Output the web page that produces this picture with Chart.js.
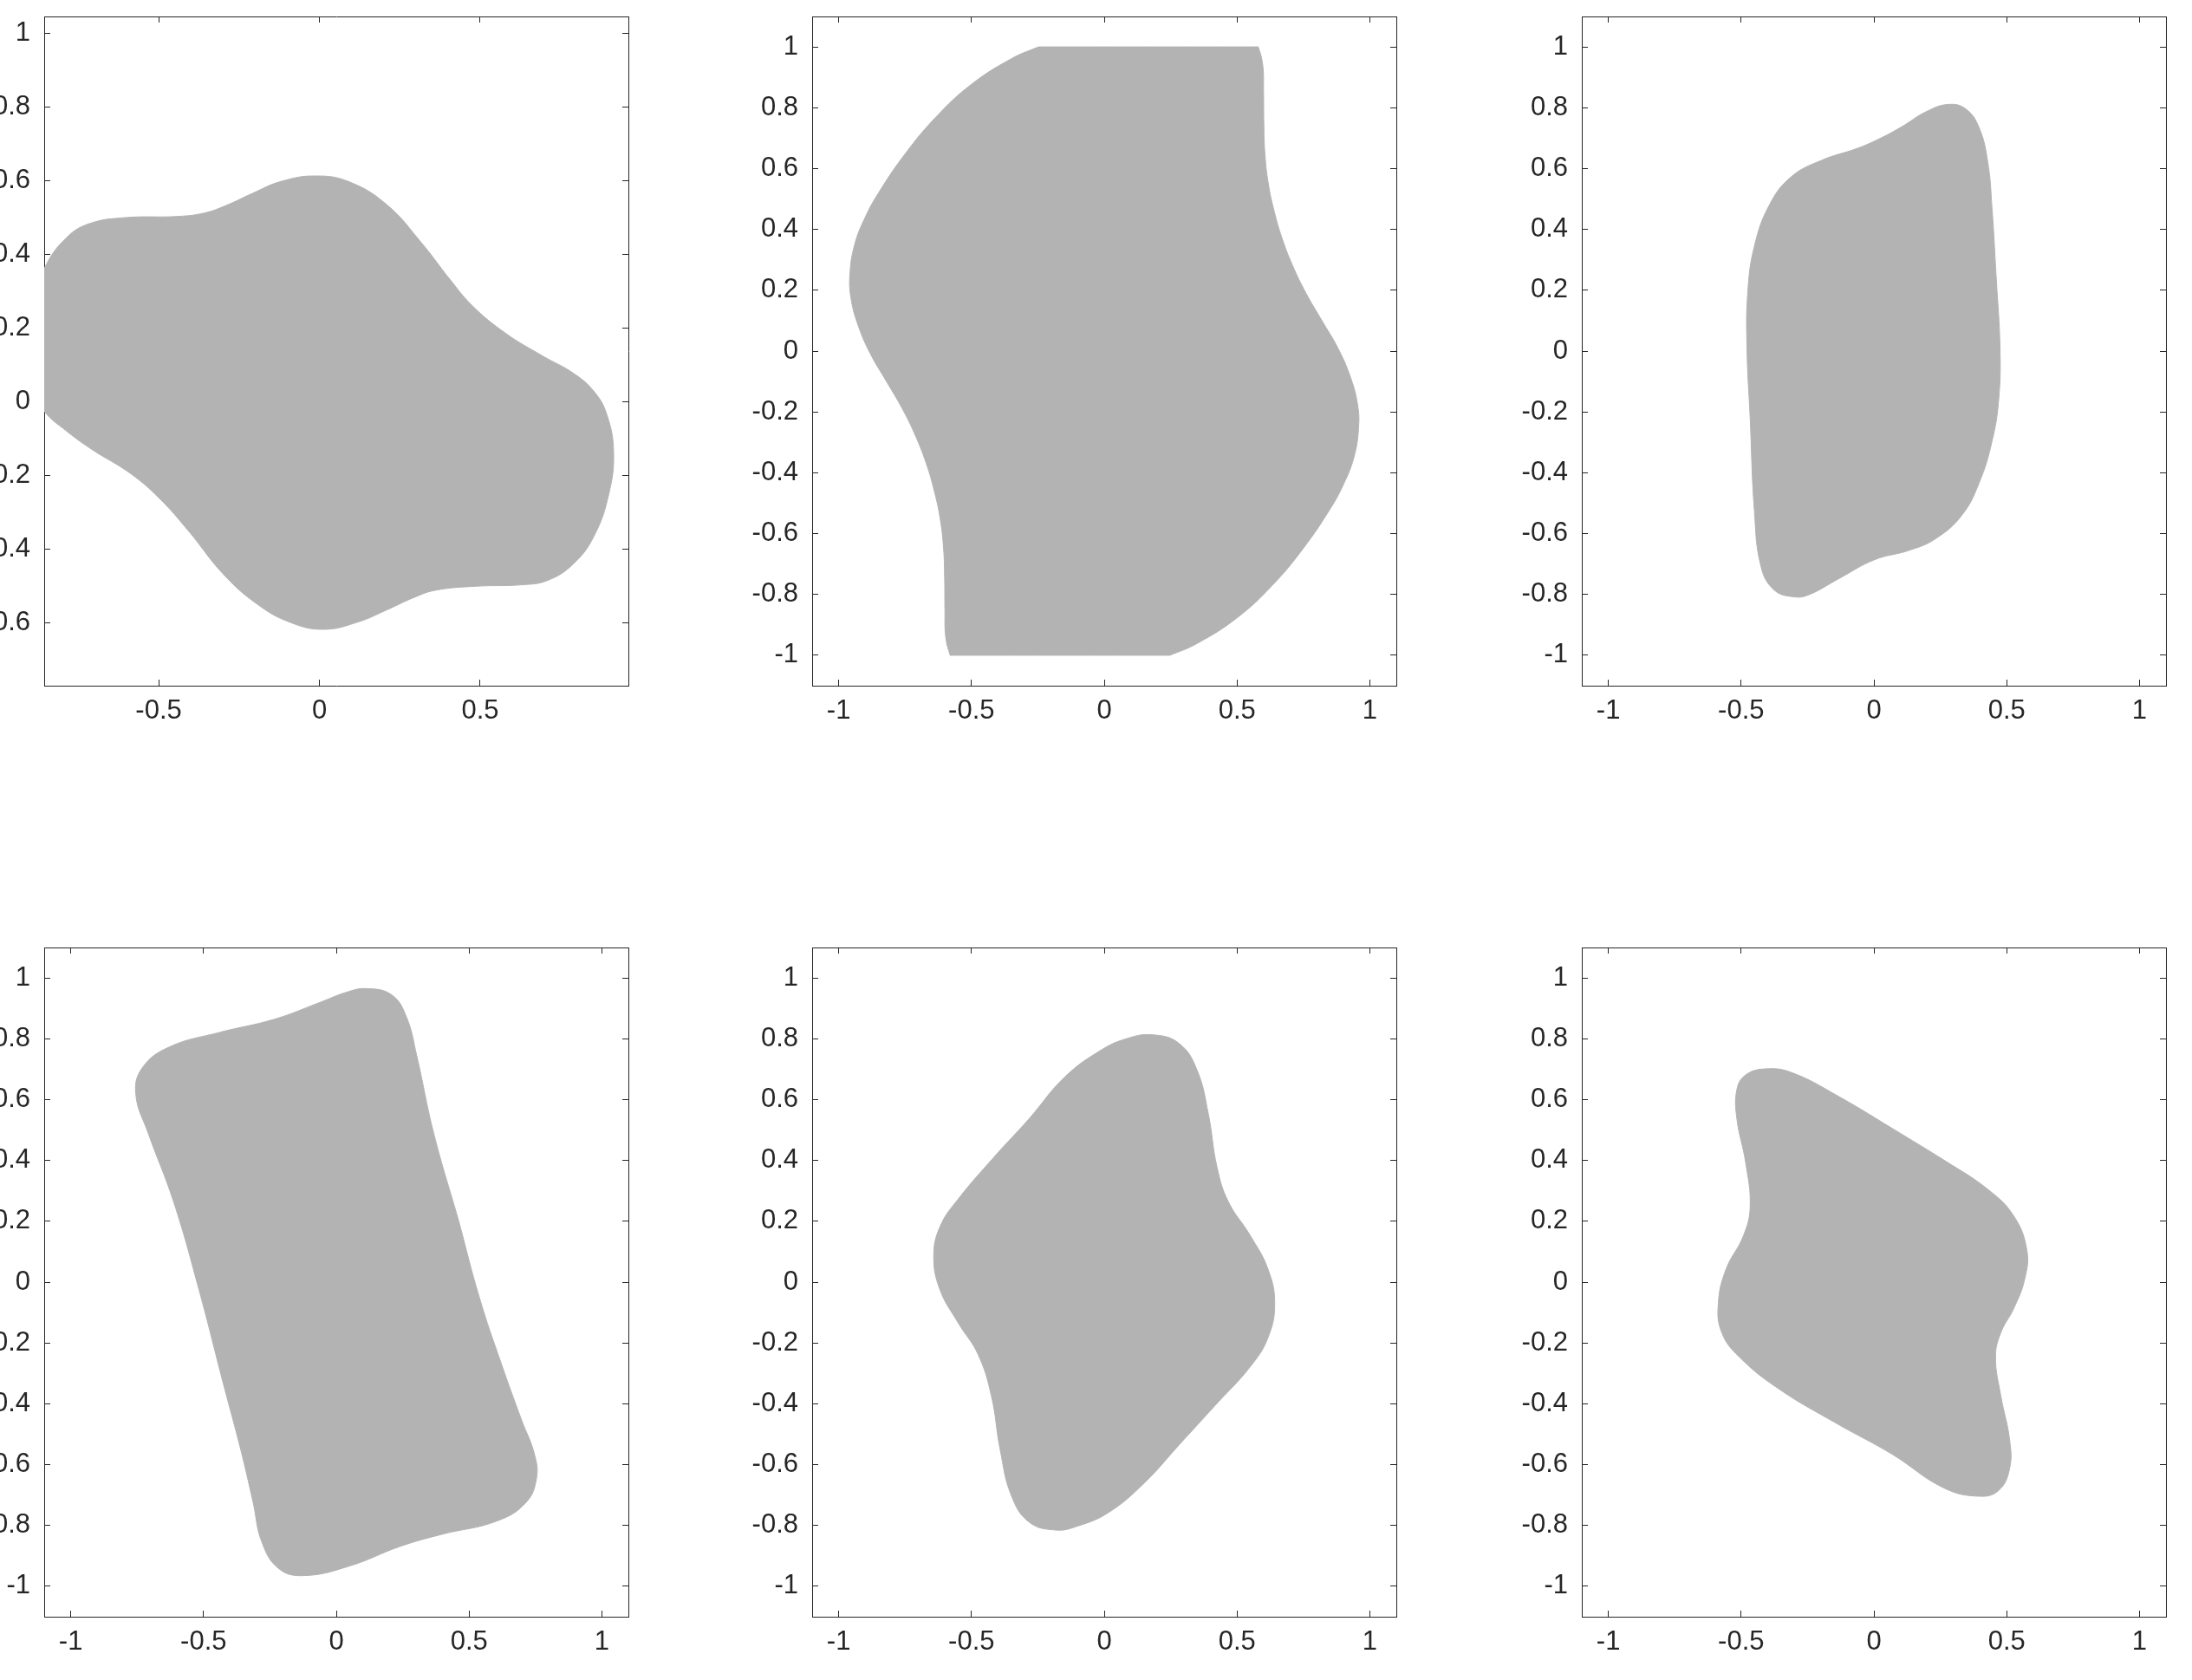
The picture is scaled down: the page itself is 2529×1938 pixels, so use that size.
<!DOCTYPE html>
<html lang="en">
<head>
  <meta charset="UTF-8">
  <title>Shape panels</title>
  <script src="https://cdn.jsdelivr.net/npm/chart.js"></script>
  <style>
    html, body { margin: 0; padding: 0; width: 2529px; height: 1938px; overflow: hidden; background: #fff; }
    canvas { position: absolute; }
  </style>
</head>
<body>
  <script>
    // outline of each shape (data units)
    const shape1X = [0.395, 0.474, 0.579, 0.697, 0.789, 0.854, 0.894, 0.915, 0.900, 0.854, 0.789, 0.710, 0.631, 0.487, 0.36, 0.29, 0.21, 0.12, 0.014, -0.091, -0.196, -0.301, -0.406, -0.497, -0.589, -0.707, -0.789, -0.854, -0.894, -0.915, -0.900, -0.854, -0.786, -0.714, -0.602, -0.445, -0.36, -0.29, -0.21, -0.12, -0.012, 0.093, 0.211, 0.316, 0.395];
    const shape1Y = [0.344, 0.262, 0.186, 0.123, 0.078, 0.028, -0.035, -0.137, -0.251, -0.365, -0.441, -0.485, -0.497, -0.501, -0.512, -0.533, -0.565, -0.598, -0.618, -0.599, -0.548, -0.466, -0.352, -0.263, -0.194, -0.130, -0.078, -0.028, 0.035, 0.137, 0.251, 0.365, 0.446, 0.484, 0.500, 0.503, 0.512, 0.533, 0.565, 0.598, 0.613, 0.597, 0.534, 0.433, 0.344];

    const shape2X = [0, 0.3, 0.574, 0.58, 0.597, 0.600, 0.601, 0.605, 0.618, 0.64, 0.67, 0.71, 0.76, 0.82, 0.88, 0.925, 0.953, 0.958, 0.94, 0.90, 0.85, 0.75, 0.633, 0.5, 0.35, 0.247, 0.241, 0, -0.3, -0.574, -0.58, -0.597, -0.6, -0.601, -0.605, -0.618, -0.64, -0.67, -0.71, -0.76, -0.82, -0.88, -0.925, -0.953, -0.958, -0.94, -0.90, -0.85, -0.75, -0.633, -0.5, -0.35, -0.247, -0.241, 0];
    const shape2Y = [1, 1, 1, 1, 0.94, 0.85, 0.75, 0.65, 0.55, 0.46, 0.37, 0.28, 0.19, 0.10, 0.01, -0.08, -0.17, -0.25, -0.35, -0.44, -0.52, -0.648, -0.77, -0.877, -0.961, -1, -1, -1, -1, -1, -1, -0.94, -0.85, -0.75, -0.65, -0.55, -0.46, -0.37, -0.28, -0.19, -0.10, -0.01, 0.08, 0.17, 0.25, 0.35, 0.44, 0.52, 0.648, 0.77, 0.877, 0.961, 1, 1, 1];

    const shape3X = [0.461, 0.475, 0.470, 0.445, 0.396, 0.330, 0.232, 0.133, 0.002, -0.130, -0.245, -0.302, -0.376, -0.425, -0.45, -0.466, -0.478, -0.475, -0.450, -0.392, -0.310, -0.195, -0.064, 0.018, 0.100, 0.199, 0.281, 0.346, 0.396, 0.429, 0.445, 0.461];
    const shape3Y = [0.238, 0.009, -0.159, -0.296, -0.434, -0.541, -0.617, -0.655, -0.686, -0.747, -0.801, -0.808, -0.785, -0.709, -0.526, -0.220, 0.009, 0.193, 0.345, 0.483, 0.574, 0.628, 0.666, 0.697, 0.735, 0.788, 0.811, 0.796, 0.735, 0.620, 0.468, 0.238];

    const shape4X = [0.461, 0.540, 0.619, 0.698, 0.746, 0.754, 0.714, 0.603, 0.398, 0.240, 0.051, -0.123, -0.218, -0.281, -0.313, -0.360, -0.423, -0.518, -0.613, -0.708, -0.755, -0.731, -0.629, -0.439, -0.234, -0.060, 0.035, 0.114, 0.209, 0.264, 0.303, 0.367, 0.461];
    const shape4Y = [0.201, -0.054, -0.262, -0.454, -0.565, -0.645, -0.725, -0.786, -0.829, -0.869, -0.933, -0.965, -0.941, -0.853, -0.725, -0.550, -0.342, -0.022, 0.265, 0.489, 0.617, 0.704, 0.773, 0.821, 0.864, 0.920, 0.952, 0.965, 0.944, 0.872, 0.744, 0.489, 0.201];

    const shape5X = [0.283, 0.15, 0.017, -0.1, -0.183, -0.283, -0.35, -0.392, -0.425, -0.475, -0.55, -0.62, -0.642, -0.617, -0.55, -0.417, -0.283, -0.15, -0.017, 0.083, 0.183, 0.283, 0.35, 0.392, 0.425, 0.467, 0.55, 0.617, 0.642, 0.617, 0.55, 0.417, 0.283];
    const shape5Y = [-0.534, -0.661, -0.757, -0.802, -0.815, -0.789, -0.701, -0.550, -0.374, -0.238, -0.134, -0.022, 0.089, 0.185, 0.273, 0.409, 0.537, 0.673, 0.760, 0.800, 0.813, 0.784, 0.696, 0.553, 0.377, 0.265, 0.153, 0.042, -0.070, -0.182, -0.278, -0.406, -0.534];

    const shape6X = [0.1, 0.264, 0.429, 0.527, 0.576, 0.568, 0.527, 0.478, 0.458, 0.478, 0.511, 0.511, 0.470, 0.396, 0.264, 0.067, -0.146, -0.360, -0.507, -0.573, -0.586, -0.557, -0.491, -0.466, -0.483, -0.516, -0.516, -0.483, -0.409, -0.31, -0.130, 0.1];
    const shape6Y = [0.489, 0.401, 0.305, 0.217, 0.105, 0.010, -0.086, -0.166, -0.246, -0.374, -0.518, -0.613, -0.685, -0.704, -0.677, -0.565, -0.462, -0.350, -0.246, -0.166, -0.070, 0.042, 0.153, 0.249, 0.393, 0.537, 0.633, 0.681, 0.701, 0.689, 0.609, 0.489];

    // tick labels
    const ticksX = [-1, -0.5, 0, 0.5, 1];
    const ticksY = [-1, -0.8, -0.6, -0.4, -0.2, 0, 0.2, 0.4, 0.6, 0.8, 1];
    const ticksX1 = [-0.5, 0, 0.5];
    const ticksY1 = [-0.6, -0.4, -0.2, 0, 0.2, 0.4, 0.6, 0.8, 1];

    // axis limits
    const limFull = [-1.1, 1.1];
    const limX1 = [-0.856, 0.961];
    const limY1 = [-0.771, 1.046];

    const GRAY = '#b3b3b3';
    const INK = '#262626';
    const FONT = "'Liberation Sans', Arial, Helvetica, sans-serif";
    const AX_L = 120, AX_B = 80, AX_T = 10, AX_R = 10;
    const PW = 674, PH = 772;
    const colLeft = [51, 937, 1825];
    const rowTop = [19, 1093];

    const panels = [
      { xs: shape1X, ys: shape1Y, xlim: limX1, ylim: limY1, xt: ticksX1, yt: ticksY1, col: 0, row: 0 },
      { xs: shape2X, ys: shape2Y, xlim: limFull, ylim: limFull, xt: ticksX, yt: ticksY, col: 1, row: 0 },
      { xs: shape3X, ys: shape3Y, xlim: limFull, ylim: limFull, xt: ticksX, yt: ticksY, col: 2, row: 0 },
      { xs: shape4X, ys: shape4Y, xlim: limFull, ylim: limFull, xt: ticksX, yt: ticksY, col: 0, row: 1 },
      { xs: shape5X, ys: shape5Y, xlim: limFull, ylim: limFull, xt: ticksX, yt: ticksY, col: 1, row: 1 },
      { xs: shape6X, ys: shape6Y, xlim: limFull, ylim: limFull, xt: ticksX, yt: ticksY, col: 2, row: 1 }
    ];

    // box axis with inward ticks, MATLAB style
    function axis(position, lim, ticks, showLabels, size) {
      const horizontal = position === 'top' || position === 'bottom';
      return {
        type: 'linear',
        position: position,
        min: lim[0],
        max: lim[1],
        afterBuildTicks: s => { s.ticks = ticks.map(v => ({ value: v })); },
        afterFit: s => {
          if (horizontal) s.height = size; else s.width = size;
          // keep label overhang from shrinking the plot box
          s.paddingTop = s.paddingBottom = s.paddingLeft = s.paddingRight = 0;
        },
        grid: { display: true, drawOnChartArea: false, drawTicks: true, tickLength: -7, color: INK, lineWidth: 1 },
        border: { display: true, color: INK, width: 1 },
        ticks: {
          display: showLabels,
          autoSkip: false,
          maxRotation: 0,
          padding: horizontal ? 21 : 23,
          color: INK,
          font: { family: FONT, size: 31, lineHeight: 1 },
          callback: v => String(v)
        }
      };
    }

    panels.forEach(p => {
      const cv = document.createElement('canvas');
      cv.width = AX_L + PW + AX_R;
      cv.height = AX_T + PH + AX_B;
      cv.style.left = (colLeft[p.col] - AX_L) + 'px';
      cv.style.top = (rowTop[p.row] - AX_T) + 'px';
      document.body.appendChild(cv);

      new Chart(cv, {
        type: 'scatter',
        data: {
          datasets: [{
            data: p.xs.map((x, i) => ({ x: x, y: p.ys[i] })),
            showLine: true,
            fill: 'shape',
            backgroundColor: GRAY,
            borderColor: GRAY,
            borderWidth: 1,
            pointRadius: 0,
            pointHoverRadius: 0,
            tension: 0.42,
            xAxisID: 'x',
            yAxisID: 'y'
          }]
        },
        options: {
          responsive: false,
          animation: false,
          events: [],
          layout: { padding: 0, autoPadding: false },
          plugins: { legend: { display: false }, tooltip: { enabled: false } },
          scales: {
            x: axis('bottom', p.xlim, p.xt, true, AX_B),
            y: axis('left', p.ylim, p.yt, true, AX_L),
            x2: axis('top', p.xlim, p.xt, false, AX_T),
            y2: axis('right', p.ylim, p.yt, false, AX_R)
          }
        }
      });
    });
  </script>
</body>
</html>
